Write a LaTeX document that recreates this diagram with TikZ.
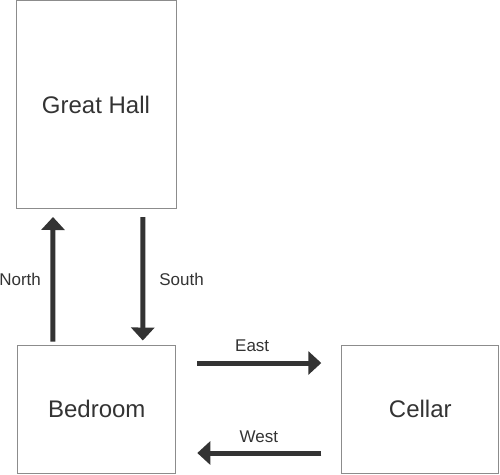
\documentclass[tikz,border=0pt]{standalone}
\usepackage{fontspec}
\setmainfont{Liberation Sans}
\usetikzlibrary{arrows.meta}
\begin{document}
\begin{tikzpicture}[x=1pt, y=-1pt,
        room/.style={draw=black!45, line width=1pt, text=black!80, inner sep=0pt,
            font=\fontsize{24}{28}\selectfont},
        move/.style={draw=black!80, line width=5pt, -{Triangle[width=23pt,length=13pt]}},
        dirtext/.style={text=black!80, inner sep=0pt, font=\fontsize{17}{20}\selectfont}]
    \useasboundingbox (0, 0) rectangle (500, 474);
    \node[room, minimum width=160pt, minimum height=208pt] (hall) at (96, 104.5) {Great Hall};
    \node[room, minimum width=158pt, minimum height=128pt] (bedroom) at (96.8, 409) {Bedroom};
    \node[room, minimum width=157pt, minimum height=128pt] (cellar) at (420.3, 409) {Cellar};
    % up and down
    \draw[move, shorten <=3pt, shorten >=8pt] ([xshift=-44pt]bedroom.north) -- ([xshift=-43pt]hall.south)
        node[dirtext, midway, left=9.5pt, yshift=-3pt] {North};
    \draw[move, shorten <=8pt, shorten >=4pt] ([xshift=47pt]hall.south) -- ([xshift=46pt]bedroom.north)
        node[dirtext, midway, right=14pt, yshift=-3pt] {South};
    % across
    \draw[move, shorten <=21pt, shorten >=20pt] ([yshift=46pt]bedroom.east) -- ([yshift=46pt]cellar.west)
        node[dirtext, pos=0.46, above=9pt] {East};
    \draw[move, shorten <=20pt, shorten >=21pt] ([yshift=-44pt]cellar.west) -- ([yshift=-44pt]bedroom.east)
        node[dirtext, midway, above=8pt] {West};
\end{tikzpicture}
\end{document}
